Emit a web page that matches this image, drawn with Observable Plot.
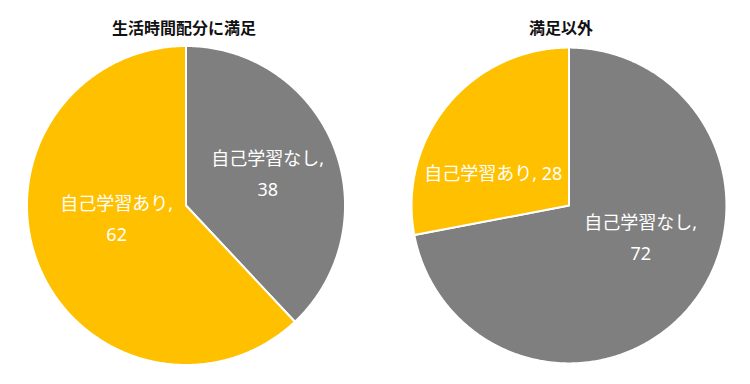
<!DOCTYPE html>
<html><head><meta charset="utf-8">
<script src="https://cdn.jsdelivr.net/npm/d3@7"></script>
<script src="https://cdn.jsdelivr.net/npm/@observablehq/plot@0.6"></script>
<style>body{margin:0;background:#fff}</style>
</head><body><div id="chart"></div>
<script>
const charts = ["生活時間配分に満足", "満足以外"];
const categories = ["自己学習なし", "自己学習あり"];
const valuesSatisfied = [38, 62];
const valuesOther = [72, 28];
const colors = ["#7f7f7f", "#ffc000"];

// layout (pie units)
const radii = [1, 0.99];
const labelPos = [[[0.514, 0.216], [-0.436, -0.066]], [[0.451, -0.182], [-0.476, 0.219]]];
const labelBreak = [[true, true], [true, false]];
const titleShift = [-0.013, -0.05];

const series = [valuesSatisfied, valuesOther];
const slices = [];
const labels = [];
series.forEach((vals, ci) => {
  const arcs = d3.pie().sort(null)(vals);
  arcs.forEach((a, si) => {
    const r = radii[ci];
    const id = charts[ci] + "-" + si;
    const pts = [{x: 0, y: 0}];
    const n = Math.max(2, Math.ceil((a.endAngle - a.startAngle) / (Math.PI / 360)));
    for (let k = 0; k <= n; k++) {
      const t = a.startAngle + (a.endAngle - a.startAngle) * k / n;
      pts.push({x: r * Math.sin(t), y: r * Math.cos(t)});
    }
    pts.push({x: 0, y: 0});
    pts.forEach(p => slices.push({...p, chart: charts[ci], id, cat: categories[si]}));
    labels.push({
      chart: charts[ci],
      x: labelPos[ci][si][0],
      y: labelPos[ci][si][1],
      text: `${categories[si]},${labelBreak[ci][si] ? "\n" : " "}${vals[si]}`
    });
  });
});

const chart = Plot.plot({
  width: 750,
  height: 384,
  marginLeft: 15,
  marginRight: 11,
  marginTop: 0,
  marginBottom: 0,
  fx: {domain: charts, paddingInner: 0.11458, paddingOuter: 0, axis: null},
  x: {domain: [-1.0658, 1.0658], axis: null},
  y: {domain: [-1.1223, 1.2853], axis: null},
  color: {domain: categories, range: colors},
  style: {fontFamily: "'Noto Sans', 'Noto Sans CJK JP', sans-serif", background: "#fff"},
  marks: [
    Plot.line(slices, {x: "x", y: "y", z: "id", fx: "chart", fill: "cat", stroke: "white", strokeWidth: 2, strokeLinejoin: "round"}),
    Plot.text(labels, {x: "x", y: "y", fx: "chart", text: "text", fill: "white", fontSize: 18, lineHeight: 1.72}),
    Plot.text(charts, {fx: d => d, x: (d, i) => titleShift[i], text: d => d, frameAnchor: "top", dy: 22, fontSize: 16, fontWeight: "bold", fill: "#111"})
  ]
});
document.getElementById("chart").appendChild(chart);
</script>
</body></html>
